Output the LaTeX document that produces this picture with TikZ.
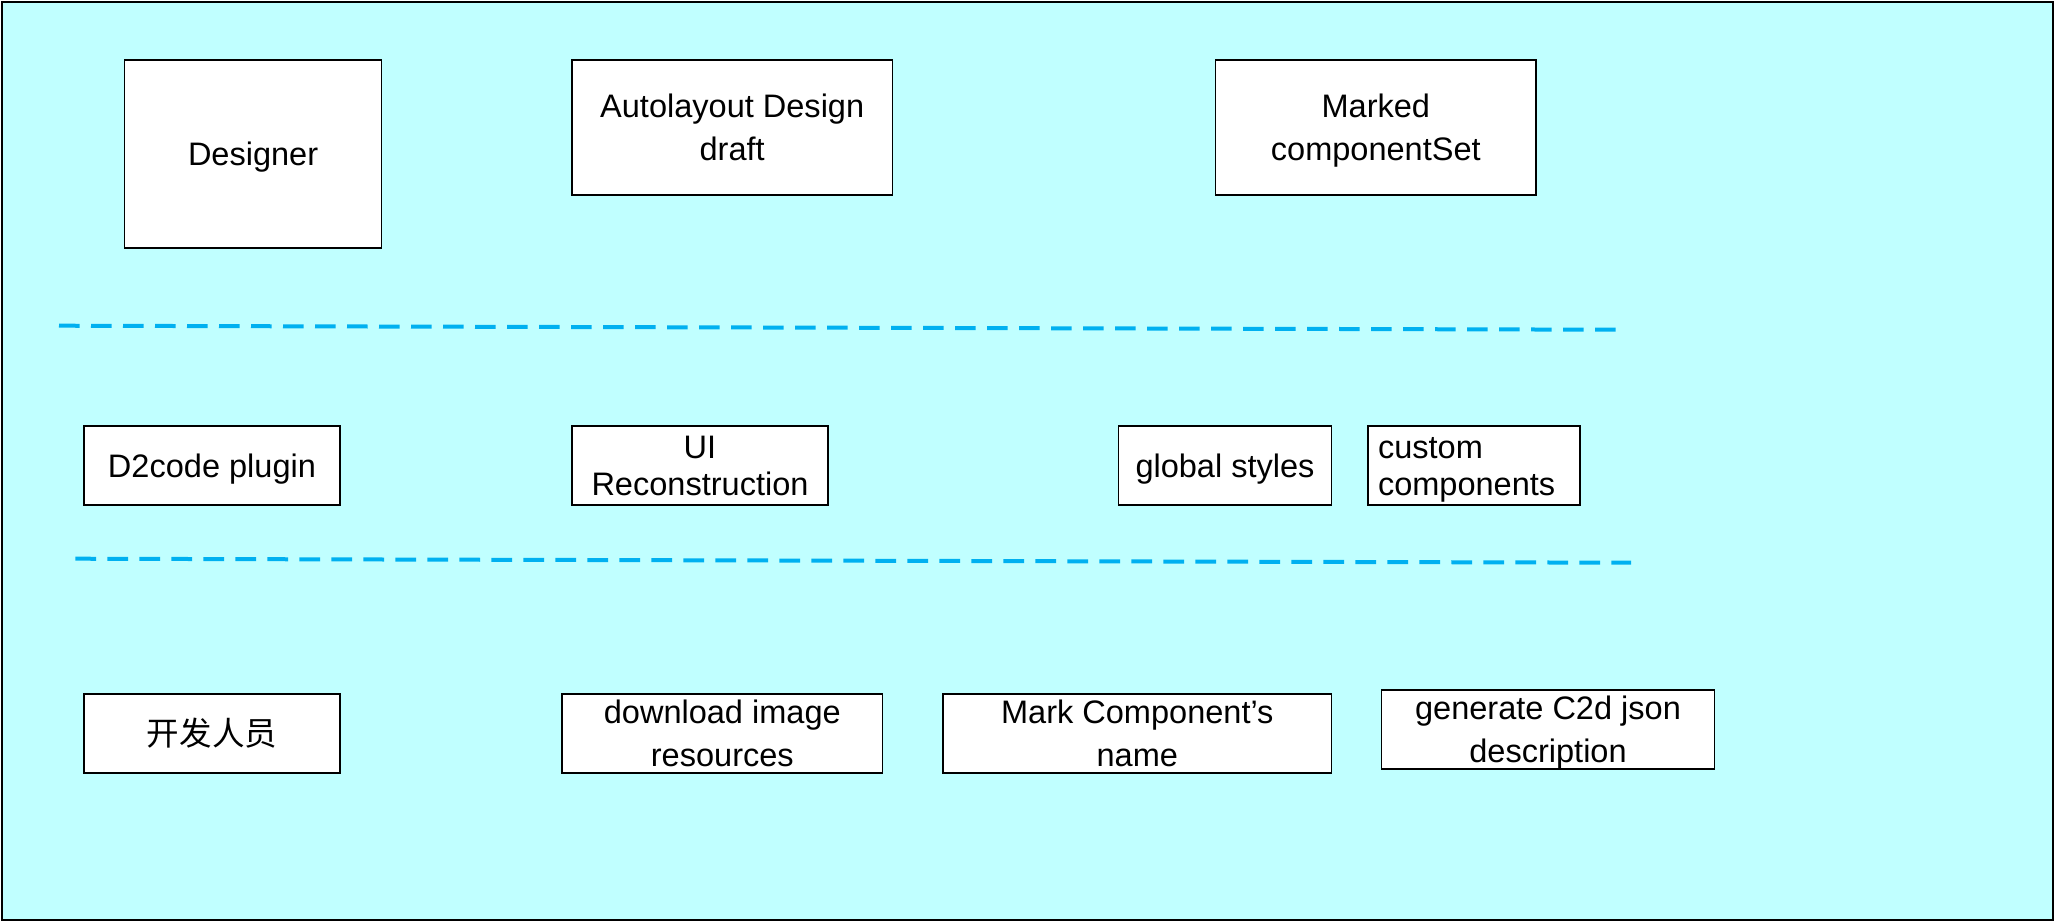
\documentclass[tikz,border=0pt]{standalone}
\usepackage{fontspec}
\setmainfont{Liberation Sans}
\newfontfamily\cjkfont{Noto Sans CJK SC}
\definecolor{bgcyan}{RGB}{192,255,255}
\definecolor{sepblue}{RGB}{0,176,240}
\tikzset{every picture/.style={line width=0.75pt}}
\tikzset{
  box/.style={draw, fill=white, line width=1.1pt, inner sep=0pt, align=center, text depth=0pt,
    font=\fontsize{24.4pt}{32.5pt}\selectfont},
  tightbox/.style={box, font=\fontsize{24.4pt}{27.8pt}\selectfont},
  sepline/.style={sepblue, line width=3pt, dash pattern=on 15.5pt off 8.5pt}
}
\begin{document}
\begin{tikzpicture}[x=0.75pt,y=0.75pt,yscale=-1,xscale=1]
\useasboundingbox (0,0) rectangle (2056,922);

%Shape: Rectangle
\draw [fill=bgcyan, line width=1.1pt] (2,2) rectangle (2053,920) ;

%Straight Lines
\coordinate (sepAl) at (59,325.7);
\coordinate (sepAr) at (1615.5,329.7);
\draw [sepline] (sepAl) -- (sepAr) ;
%Straight Lines
\coordinate (sepBl) at (75.4,558.7);
\coordinate (sepBr) at (1631,562.7);
\draw [sepline] (sepBl) -- (sepBr) ;

% Text Node
\node [box, minimum width=192.75pt, minimum height=141pt] (designer) at (253.1,154) {Designer};
% Text Node
\node [box, minimum width=240.5pt, minimum height=101.25pt] (draft) at (732.2,127.5) {Autolayout Design\\draft};
% Text Node
\node [box, minimum width=240.4pt, minimum height=101.25pt] (markedset) at (1375.8,127.5) {Marked\\componentSet};

% Text Node
\node [tightbox, minimum width=192pt, minimum height=59.25pt] (plugin) at (212,465.5) {D2code plugin};
% Text Node
\node [tightbox, minimum width=192pt, minimum height=59.25pt] (rebuild) at (700,465.5) {UI\\Reconstruction};
% Text Node
\node [tightbox, minimum width=159.75pt, minimum height=59.25pt] (gstyles) at (1225,465.5) {global styles};
% Text Node
\node [tightbox, align=left, inner xsep=7.5pt, text width=144pt, text depth=26.9pt, minimum height=59.25pt] (custom) at (1474,465.5) {custom\\components};

% Text Node
\node [box, text depth=, minimum width=192pt, minimum height=59.25pt] (dev) at (212,733.5) {\cjkfont 开发人员};
% Text Node
\node [box, minimum width=240.45pt, minimum height=59.25pt] (images) at (722.3,733.5) {download image\\resources};
% Text Node
\node [box, minimum width=291.45pt, minimum height=59.25pt] (compname) at (1137.3,733.5) {Mark Component’s\\name};
% Text Node
\node [box, minimum width=249.75pt, minimum height=59.25pt] (jsondesc) at (1548,729.5) {generate C2d json\\description};

\end{tikzpicture}
\end{document}
